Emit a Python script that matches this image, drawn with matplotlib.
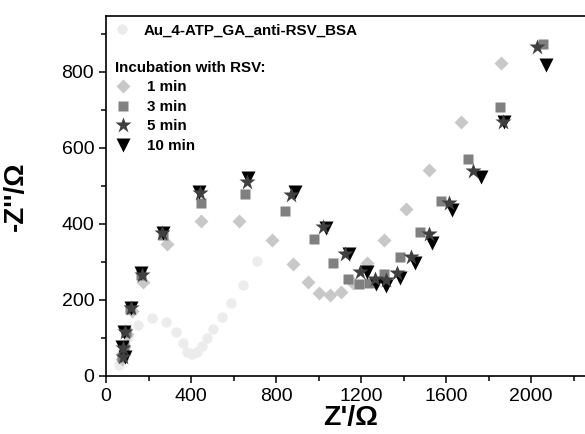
import matplotlib
matplotlib.use("Agg")
import matplotlib.pyplot as plt
from matplotlib.ticker import MultipleLocator

plt.rcParams['font.family'] = ['Liberation Sans', 'DejaVu Sans']

# Nyquist data (Z' , -Z'' in Ohm)
bsa_x = [61, 80, 104, 151, 216, 282, 329, 362, 381, 405, 428, 452, 475, 504, 546, 588, 645, 711]
bsa_y = [29, 74, 103, 134, 153, 142, 116, 87, 63, 58, 63, 79, 100, 124, 155, 192, 239, 303]

min1_x = [75, 85, 100, 120, 176, 289, 446, 627, 780, 881, 952, 1004, 1054, 1104, 1160, 1227, 1308, 1409, 1520, 1669, 1857]
min1_y = [45, 75, 110, 172, 248, 348, 408, 408, 359, 294, 246, 219, 213, 222, 245, 298, 358, 439, 543, 669, 824]

min3_x = [75, 85, 95, 115, 165, 268, 446, 654, 842, 979, 1070, 1137, 1192, 1239, 1309, 1384, 1475, 1578, 1702, 1854, 2055]
min3_y = [50, 80, 115, 175, 265, 370, 456, 478, 434, 360, 296, 255, 241, 245, 269, 314, 380, 460, 570, 707, 873]

min5_x = [78, 82, 89, 116, 168, 262, 442, 662, 870, 1019, 1122, 1195, 1263, 1318, 1371, 1435, 1519, 1613, 1725, 1866, 2029]
min5_y = [51, 73, 117, 178, 266, 375, 481, 511, 476, 392, 321, 273, 255, 253, 270, 312, 373, 456, 540, 669, 865]

min10_x = [89, 74, 85, 116, 165, 270, 439, 670, 889, 1035, 1143, 1227, 1268, 1318, 1382, 1455, 1532, 1627, 1763, 1870, 2071]
min10_y = [51, 77, 117, 180, 270, 377, 485, 522, 483, 390, 321, 273, 241, 237, 257, 297, 351, 437, 524, 667, 818]

fig = plt.figure(figsize=(5.85, 4.34), dpi=100)
ax = fig.add_axes([106/585, 58/434, 489/585, 360/434])

h_bsa, = ax.plot(bsa_x, bsa_y, 'o', color='#ececec', ms=7.5, mec='none', label='Au_4-ATP_GA_anti-RSV_BSA')
h1, = ax.plot(min1_x, min1_y, 'D', color='#c8c8c8', ms=7.5, mec='none', label='1 min')
h3, = ax.plot(min3_x, min3_y, 's', color='#808080', ms=6.5, mec='none', label='3 min')
h10, = ax.plot(min10_x, min10_y, 'v', color='#000000', ms=10, mec='none', label='10 min')
h5, = ax.plot(min5_x, min5_y, '*', color='#404040', ms=12, mec='none', label='5 min')

ax.set_xlim(0, 2300)
ax.set_ylim(0, 947)
ax.xaxis.set_major_locator(MultipleLocator(400))
ax.xaxis.set_minor_locator(MultipleLocator(200))
ax.yaxis.set_major_locator(MultipleLocator(200))
ax.yaxis.set_minor_locator(MultipleLocator(100))
ax.tick_params(which='both', direction='out', width=1.1, labelsize=14)
ax.tick_params(which='major', length=5)
ax.tick_params(which='minor', length=3.5)
for s in ax.spines.values():
    s.set_linewidth(1.2)

ax.set_xlabel("Z'/\u03A9", fontsize=20.5, fontweight='bold', labelpad=0)
ax.set_ylabel("-Z''/\u03A9", fontsize=20, fontweight='bold')
ax.yaxis.set_label_coords(-0.158, 0.5)

lab = {'size': 10.9, 'weight': 'bold'}
leg1 = ax.legend(handles=[h_bsa], loc='upper left', bbox_to_anchor=(0.016, 0.979),
                 frameon=False, prop=lab, borderpad=0, borderaxespad=0,
                 handlelength=1.1, handletextpad=0.85)
ax.add_artist(leg1)
leg2 = ax.legend(handles=[h1, h3, h5, h10], loc='upper left', bbox_to_anchor=(0.018, 0.875),
                 frameon=False, prop=lab, borderpad=0, borderaxespad=0,
                 handlelength=1.1, handletextpad=1.0, labelspacing=0.36,
                 title='Incubation with RSV:', title_fontproperties=lab, alignment='left')

fig.savefig('out.png', dpi=100)
